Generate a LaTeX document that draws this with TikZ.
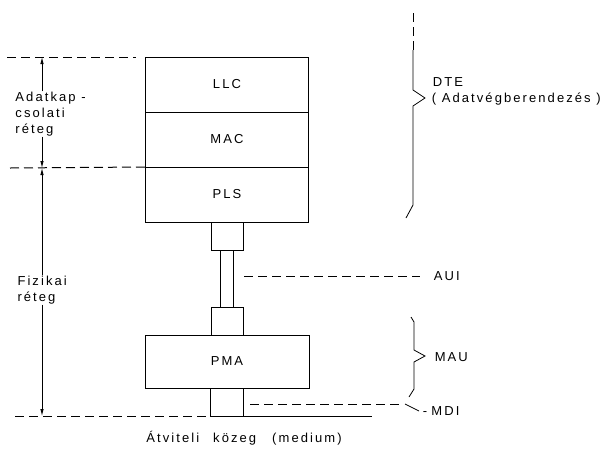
\documentclass[tikz,border=0pt]{standalone}
\usepackage{fontspec}
\setmainfont[LetterSpace=16]{Liberation Sans}
\usetikzlibrary{arrows.meta,positioning}

\begin{document}
\begin{tikzpicture}[x=1pt, y=-1pt, line width=1pt, node distance=0pt, every node/.style={font=\fontsize{13}{16}\selectfont}]
\tikzset{layer/.style={draw, minimum width=163pt, minimum height=55pt, inner sep=0pt, outer sep=0pt}}
\tikzset{plug/.style={draw, minimum width=32pt, minimum height=28pt, inner sep=0pt, outer sep=0pt}}
\tikzset{dashline/.style={dash pattern=on 9pt off 5pt}}
\tikzset{dim/.style={-{Latex[length=7pt, width=3.5pt]}, line width=0.8pt}}
\useasboundingbox (0,0) rectangle (608,451);
\node[layer] (llc) at (227,84.5) {LLC};
\node[layer, below=of llc] (mac) {MAC};
\node[layer, below=of mac] (pls) {PLS};
\node[plug, below=of pls] (aui1) {};
\node[plug] (aui2) at (227,321) {};
\node[layer, minimum width=164pt, minimum height=53pt, below=of aui2] (pma) {PMA};
\node[plug, minimum width=33pt, below=of pma] (mdi1) {};
\draw ([xshift=-6.5pt]aui1.south) -- ([xshift=-6.5pt]aui2.north);
\draw ([xshift=6.5pt]aui1.south) -- ([xshift=6.5pt]aui2.north);
\coordinate (dl1) at (42,57);
\coordinate (dl2) at (42,168);
\coordinate (dl3) at (42,416);
\draw[dashline] (7,57) -- ([xshift=-10pt]llc.north west);
\draw[dashline] (10,168) -- (mac.south west);
\draw[dashline] (15,416) -- (mdi1.south west);
\draw (mdi1.south east) -- (372,416);
\node[anchor=west, align=left, inner sep=0pt] (adat) at (15,114) {Adatkap -\\csolati\\réteg};
\node[anchor=west, align=left, inner sep=0pt] (fiz) at (17,290) {Fizikai\\réteg};
\draw[dim] (adat.north -| dl1) -- (dl1);
\draw[dim] (adat.south -| dl1) -- (dl2);
\draw[dim] (fiz.north -| dl1) -- (dl2);
\draw[dim] (fiz.south -| dl1) -- (dl3);
\node[anchor=west] (aui) at (430,276) {AUI};
\draw[dashline] (244,276) -- ([xshift=-10pt]aui.west);
\node[anchor=west] (mdi) at (419,411) {-\,\,MDI};
\coordinate (mdiend) at (402,404);
\draw[dashline] (250,404) -- (mdiend);
\draw[line width=0.8pt] ([xshift=3pt]mdiend) -- (mdi.west);
\draw[dashline, line width=0.8pt] (413,13) -- (413,50);
\draw[line width=0.8pt] (413,50) -- (413,90) -- (425,98) -- (413,106) -- (413,205) -- (406,218);
\node[anchor=west] (dte) at (429,82) {DTE};
\node[anchor=west] (dtefull) at (428,99) {( Adatvégberendezés )};
\draw[line width=0.8pt] (411,317) -- (414,322) -- (414,350) -- (425,356) -- (414,362) -- (414,389) -- (409,397);
\node[anchor=west] (mau) at (431,357) {MAU};
\node (medium) at (244,438) {Átviteli\hspace{14pt}közeg\hspace{16pt}(medium)};
\end{tikzpicture}
\end{document}
